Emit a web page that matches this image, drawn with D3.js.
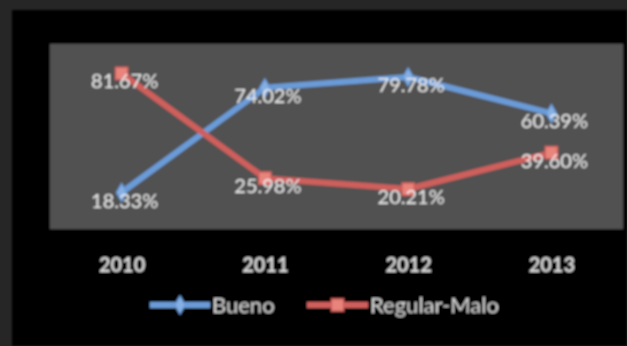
<!DOCTYPE html>
<html>
<head>
<meta charset="utf-8">
<script src="https://cdn.jsdelivr.net/npm/d3@7/dist/d3.min.js"></script>
<style>
  html, body { margin: 0; padding: 0; background: #000; }
  svg { display: block; }
  text { font-family: Lato, "Open Sans", "DejaVu Sans", sans-serif; }
</style>
</head>
<body>
<svg id="chart" width="627" height="346"></svg>
<script>
// Survey results by year
const years = ["2010", "2011", "2012", "2013"];
const bueno = [18.33, 74.02, 79.78, 60.39];
const regularMalo = [81.67, 25.98, 20.21, 39.60];
const seriesNames = ["Bueno", "Regular-Malo"];

const W = 627, H = 346;
const plot = { left: 50, right: 623, top: 44, bottom: 229 };

const svg = d3.select("#chart");

const defs = svg.append("defs");
defs.append("filter").attr("id", "soft")
  .attr("x", "-5%").attr("y", "-5%").attr("width", "110%").attr("height", "110%")
  .append("feGaussianBlur").attr("stdDeviation", 0.95);

// outer frame and chart background
svg.append("rect").attr("width", W).attr("height", H).attr("fill", "#262626");
const g = svg.append("g").attr("filter", "url(#soft)");
g.append("rect").attr("x", 12).attr("y", 10).attr("width", W - 12).attr("height", H - 10).attr("fill", "#000");

// plot area
g.append("rect")
  .attr("x", plot.left).attr("y", plot.top)
  .attr("width", plot.right - plot.left).attr("height", plot.bottom - plot.top)
  .attr("fill", "#515151");

const x = d3.scalePoint().domain(years).range([plot.left, plot.right]).padding(0.5);
const y = d3.scaleLinear().domain([0, 100]).range([227, 39]);

const series = [
  { name: seriesNames[0], values: bueno, color: "#6b9bd8", marker: "diamond", mcolor: "#86b0e4" },
  { name: seriesNames[1], values: regularMalo, color: "#cf5f5c", marker: "square", mcolor: "#e8847c" }
];

const line = d3.line().x((d, i) => x(years[i])).y(d => y(d));

const symbolFor = s => s.marker === "diamond"
  ? d3.symbol().type(d3.symbolDiamond).size(90)
  : d3.symbol().type(d3.symbolSquare).size(150);

series.forEach(s => {
  g.append("path")
    .attr("d", line(s.values))
    .attr("fill", "none")
    .attr("stroke", s.color)
    .attr("stroke-width", 6)
    .attr("stroke-linejoin", "round")
    .attr("stroke-linecap", "round");
});

series.forEach(s => {
  g.selectAll(null).data(s.values).enter().append("path")
    .attr("transform", (d, i) => `translate(${x(years[i])},${y(d)})`)
    .attr("d", symbolFor(s)())
    .attr("fill", s.mcolor)
    .attr("stroke", s.color)
    .attr("stroke-width", 1.5);
});

// data labels
series.forEach(s => {
  g.selectAll(null).data(s.values).enter().append("text")
    .attr("x", (d, i) => x(years[i]) + 3)
    .attr("y", d => y(d) + 8)
    .attr("dy", "0.35em")
    .attr("text-anchor", "middle")
    .attr("font-size", 20)
    .attr("fill", "#ececec")
    .text(d => d.toFixed(2) + "%");
});

// category axis
const xAxis = d3.axisBottom(x).tickSize(0).tickPadding(29);
const ax = g.append("g").attr("transform", `translate(0,${plot.bottom})`).call(xAxis);
ax.select(".domain").remove();
ax.selectAll("text")
  .attr("font-size", 20)
  .attr("font-weight", "bold")
  .attr("fill", "#d9d9d9")
  .style("font-family", "Lato, 'Open Sans', sans-serif");

// legend
const legendY = 305;
const legendItems = [
  { s: series[0], x0: 150, x1: 210 },
  { s: series[1], x0: 307, x1: 368 }
];
legendItems.forEach(it => {
  const lg = g.append("g");
  lg.append("line")
    .attr("x1", it.x0).attr("x2", it.x1)
    .attr("y1", legendY).attr("y2", legendY)
    .attr("stroke", it.s.color).attr("stroke-width", 6);
  lg.append("path")
    .attr("transform", `translate(${(it.x0 + it.x1) / 2},${legendY})`)
    .attr("d", symbolFor(it.s)())
    .attr("fill", it.s.mcolor)
    .attr("stroke", it.s.color)
    .attr("stroke-width", 1.5);
  lg.append("text")
    .attr("x", it.x1 + 2)
    .attr("y", legendY)
    .attr("dy", "0.36em")
    .attr("font-size", 22)
    .attr("fill", "#d4d4d4")
    .text(it.s.name);
});
</script>
</body>
</html>
